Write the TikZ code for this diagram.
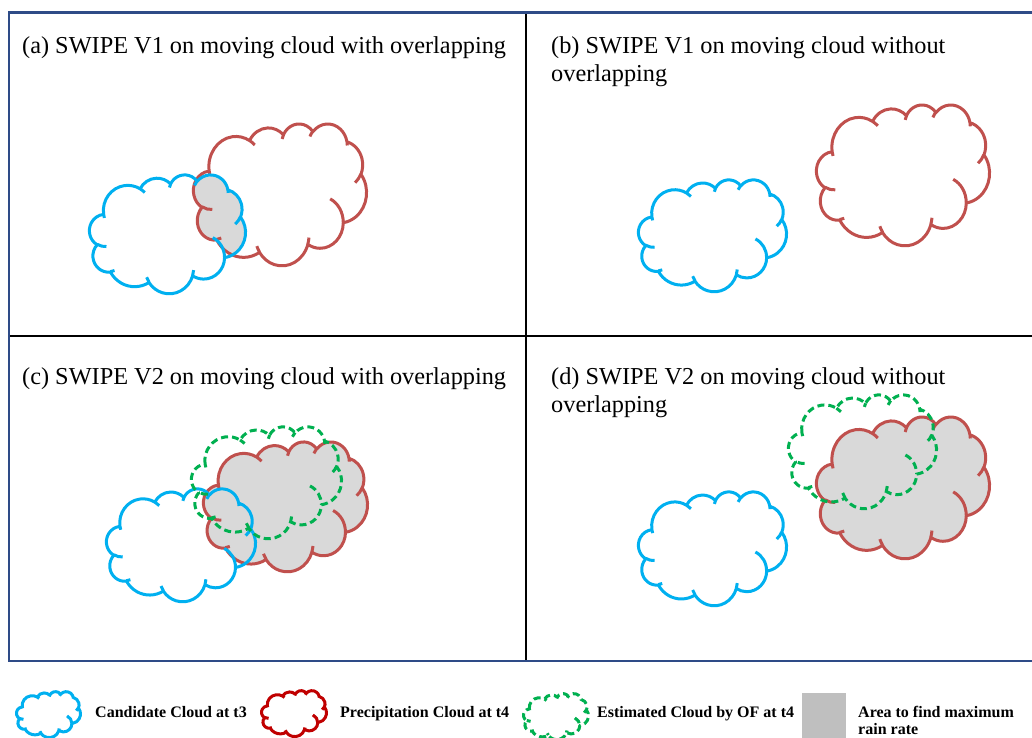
\documentclass[tikz,border=0pt]{standalone}
\usepackage{fontspec}
\setmainfont{Liberation Serif}

\definecolor{frameblue}{HTML}{2E4B87}
\definecolor{candblue}{HTML}{00B0F0}
\definecolor{precred}{HTML}{C0504D}
\definecolor{keyred}{HTML}{C00000}
\definecolor{estgreen}{HTML}{00B050}
\definecolor{areagray}{HTML}{D9D9D9}
\definecolor{keygray}{HTML}{BFBFBF}

% elliptical arc: start angle and sweep are true (polar) angles on the ellipse
\newcommand\parc[4]{arc[x radius=#1,y radius=#2,
  start angle={atan2(#1*sin(#3),#2*cos(#3))},
  delta angle={mod(atan2(#1*sin(#3+#4),#2*cos(#3+#4))-atan2(#1*sin(#3),#2*cos(#3))+720,360)}]}

% cloud outline in a 43.2 x 43.2 box, y pointing down
\newcommand\cloudoutline{(3.900,14.370)
  \parc{6.753}{9.190}{-190.4875}{123.7805}
  \parc{5.333}{7.267}{-144.1024}{89.9452}
  \parc{4.365}{5.945}{-145.8079}{99.7230}
  \parc{4.857}{6.595}{-130.9861}{117.2417}
  \parc{5.333}{7.273}{-78.7089}{109.0269}
  \parc{6.775}{9.220}{-46.2673}{130.2690}
  \parc{5.785}{7.867}{0.6250}{114.0333}
  \parc{6.752}{9.215}{22.4516}{115.1726}
  \parc{7.720}{10.543}{66.2426}{75.7110}
  \parc{4.360}{5.918}{-274.9421}{146.7356}
  \parc{4.345}{5.945}{-246.8285}{152.5189} -- cycle}

% the small inner curls of the cloud
\newcommand\cloudhooks{
  (4.693,26.177) \parc{4.345}{5.945}{86.7420}{26.4295}
  (6.928,34.899) \parc{4.360}{5.918}{73.6105}{11.4475}
  (16.478,39.090) \parc{6.752}{9.215}{137.6242}{14.0811}
  (28.827,34.751) \parc{6.752}{9.215}{6.4533}{15.9984}
  (34.129,22.954) \parc{5.785}{7.867}{-70.2924}{70.9174}
  (41.798,15.354) \parc{5.333}{7.273}{30.3180}{27.7515}
  (38.324,5.426) \parc{4.857}{6.595}{-13.7443}{14.8589}
  (29.078,3.952) \parc{4.857}{6.595}{-149.1815}{18.1954}
  (22.141,4.720) \parc{4.365}{5.945}{-163.4943}{17.6864}
  (14.000,5.192) \parc{6.753}{9.190}{-66.7070}{12.3194}
  (4.127,15.789) \parc{6.753}{9.190}{157.6544}{11.8582}}

% place the next cloud: left, top, width, height (in pt)
\newcommand\setcloud[4]{%
  \def\cloudx{#1}\def\cloudy{#2}%
  \pgfmathsetmacro\cloudw{#3/43.2}\pgfmathsetmacro\cloudh{#4/43.25}}

\tikzset{
  incloud/.style={xshift=\cloudx pt,yshift=-\cloudy pt,x=\cloudw pt,y=-\cloudh pt},
  cloudline/.style={line width=3pt,line join=round},
  candidate/.style={cloudline,draw=candblue},
  precip/.style={cloudline,draw=precred},
  estimate/.style={cloudline,draw=estgreen,dash pattern=on 7pt off 4pt},
  paneltext/.style={anchor=base west,inner sep=0pt,font=\fontsize{24.3}{28}\selectfont},
  keytext/.style={anchor=base west,inner sep=0pt,font=\fontsize{16}{19}\selectfont\bfseries},
}

\begin{document}
\begin{tikzpicture}[x=1pt,y=-1pt]
\fill[white] (0,0) rectangle (1032,737);
\useasboundingbox (0,0) rectangle (1032,737);

% panel grid
\draw[line width=2pt] (526,12.5) -- (526,661);
\draw[line width=2pt] (9,336) -- (1032,336);
\draw[frameblue,line width=2.5pt] (1032,12.5) -- (9,12.5) -- (9,661) -- (1032,661);

% panel titles
\node[paneltext] (ta) at (22,53) {(a) SWIPE V1 on moving cloud with overlapping};
\node[paneltext] (tb) at (551,53) {(b) SWIPE V1 on moving cloud without};
\node[paneltext] (tb2) at (551,81) {overlapping};
\node[paneltext] (tc) at (22,384) {(c) SWIPE V2 on moving cloud with overlapping};
\node[paneltext] (td) at (551,384) {(d) SWIPE V2 on moving cloud without};
\node[paneltext] (td2) at (551,412) {overlapping};

% (a) overlapping clouds, shared area shaded
\begin{scope}
  \setcloud{193.5}{123.5}{173}{142}
  \clip[incloud] \cloudoutline;
  \setcloud{89.5}{174.5}{156}{119}
  \fill[incloud,fill=areagray] \cloudoutline;
\end{scope}
\setcloud{193.5}{123.5}{173}{142}
\draw[incloud,precip] \cloudoutline \cloudhooks;
\setcloud{89.5}{174.5}{156}{119}
\draw[incloud,candidate] \cloudoutline \cloudhooks;

% (b) separate clouds
\setcloud{816.5}{104.5}{173}{141}
\draw[incloud,precip] \cloudoutline \cloudhooks;
\setcloud{638.5}{179.5}{148}{112}
\draw[incloud,candidate] \cloudoutline \cloudhooks;

% (c) precipitation cloud shaded, estimate dashed
\setcloud{203.5}{441.5}{164}{130}
\fill[incloud,fill=areagray] \cloudoutline;
\draw[incloud,precip] \cloudoutline \cloudhooks;
\setcloud{106.5}{488.5}{149}{113}
\draw[incloud,candidate] \cloudoutline \cloudhooks;
\setcloud{191.5}{426.5}{150}{112}
\draw[incloud,estimate] \cloudoutline \cloudhooks;

% (d)
\setcloud{816.5}{416.5}{173}{142}
\fill[incloud,fill=areagray] \cloudoutline;
\draw[incloud,precip] \cloudoutline \cloudhooks;
\setcloud{638.5}{491.5}{148}{114}
\draw[incloud,candidate] \cloudoutline \cloudhooks;
\setcloud{788.5}{394.5}{148}{114}
\draw[incloud,estimate] \cloudoutline \cloudhooks;

% legend
\setcloud{16.5}{691.5}{64}{46}
\draw[incloud,candidate] \cloudoutline \cloudhooks;
\node[keytext] (k1) at (95,717) {Candidate Cloud at t3};
\setcloud{261.5}{690.5}{65}{46}
\draw[incloud,cloudline,draw=keyred] \cloudoutline \cloudhooks;
\node[keytext] (k2) at (340,717) {Precipitation Cloud at t4};
\setcloud{523.5}{693.5}{65}{46}
\draw[incloud,estimate] \cloudoutline \cloudhooks;
\node[keytext] (k3) at (597,717) {Estimated Cloud by OF at t4};
\fill[keygray] (802,693) rectangle (846,738);
\node[keytext] (k4) at (858,717) {Area to find maximum};
\node[keytext] (k5) at (858,734) {rain rate};
\end{tikzpicture}
\end{document}
